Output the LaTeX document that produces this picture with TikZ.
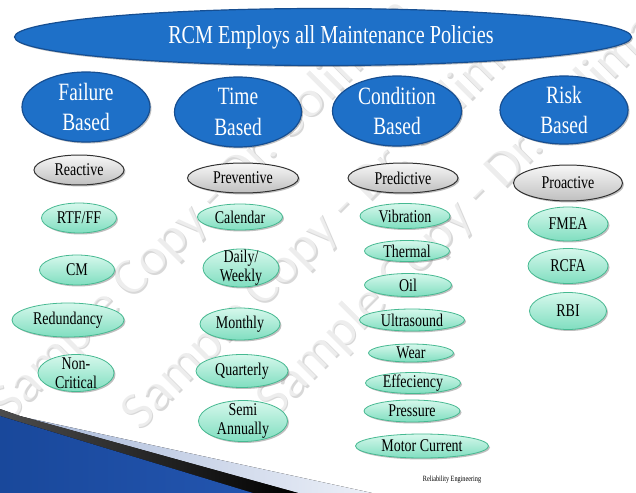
\documentclass[tikz,border=0pt]{standalone}
\usepackage{fontspec}
\setmainfont{Liberation Serif}[FakeStretch=0.78]
\newfontfamily\wmfont{Carlito}
\usetikzlibrary{shapes.geometric,shadows}
\definecolor{blueF}{RGB}{30,112,200}
\definecolor{blueD}{RGB}{22,78,145}
\definecolor{greenT}{RGB}{214,248,236}
\definecolor{greenB}{RGB}{128,222,192}
\definecolor{greenD}{RGB}{70,185,145}
\definecolor{silD}{RGB}{50,50,50}
\definecolor{swA}{RGB}{25,72,155}
\definecolor{swB}{RGB}{85,140,222}
\definecolor{swC}{RGB}{35,85,175}
\definecolor{lbA}{RGB}{165,182,215}
\definecolor{lbB}{RGB}{236,240,248}
\newcommand\mkell[6]{%
  \node[#1, minimum width=#4bp, minimum height=#5bp] (#2) at (#3) {};
  \node[#1txt] (#2t) at (#2.center) {#6};}
\begin{document}
\begin{tikzpicture}[x=1bp,y=-1bp,
  shad/.style={drop shadow={shadow xshift=1.5pt,shadow yshift=-1.5pt,opacity=0.25,fill=black}},
  bel/.style={ellipse, draw=blueD, line width=1.2pt, fill=blueF, inner sep=0pt, shad},
  beltxt/.style={text=white, font=\fontsize{25}{31}\selectfont, align=center, inner sep=0pt},
  ttltxt/.style={text=white, font=\fontsize{26}{30}\selectfont, inner sep=0pt},
  sel/.style={ellipse, draw=silD, line width=1pt, top color=gray!6, bottom color=gray!50, inner sep=0pt, shad},
  seltxt/.style={text=black, font=\fontsize{18}{20}\selectfont, inner sep=0pt},
  gel/.style={ellipse, draw=greenD, line width=0.8pt, top color=greenT, bottom color=greenB, inner sep=0pt, shad},
  geltxt/.style={text=black, font=\fontsize{18}{19}\selectfont, align=center, inner sep=0pt},
  wmg/.style={text=black!55, opacity=0.28, rotate=45, font=\wmfont\fontsize{54}{54}\selectfont, inner sep=0pt},
  wmw/.style={text=white, opacity=0.55, rotate=45, font=\wmfont\fontsize{54}{54}\selectfont, inner sep=0pt}]
\useasboundingbox (0,0) rectangle (636,493);
\fill[white] (0,0) rectangle (636,493);
% watermark (behind)
\node[wmg] (wm1s) at (203.5,210.5) {Sample Copy - Dr. Soliman};
\node[wmw] (wm1) at (202,209) {Sample Copy - Dr. Soliman};
\node[wmg] (wm2s) at (334.5,219.5) {Sample Copy - Dr. Soliman};
\node[wmw] (wm2) at (333,218) {Sample Copy - Dr. Soliman};
\node[wmg] (wm3s) at (469.5,206.5) {Sample Copy - Dr. Soliman};
\node[wmw] (wm3) at (468,205) {Sample Copy - Dr. Soliman};
% bottom swoosh
\fill[left color=lbA, right color=lbB] (0,412) -- (372,493) -- (0,493) -- cycle;
\fill[left color=black!70, right color=black] (0,409) -- (20,416) -- (298,493) -- (0,493) -- cycle;
\fill[left color=swA, middle color=swB, right color=swC] (0,416) -- (253,493) -- (0,493) -- cycle;
% title
\node[bel, minimum width=617bp, minimum height=57bp] (title) at (323,37) {};
\node[ttltxt] (titlet) at (331,37) {RCM Employs all Maintenance Policies};
% categories
\mkell{bel}{failure}{86,107}{128}{70}{Failure\\Based}
\mkell{bel}{time}{238,112}{127}{70}{Time\\Based}
\mkell{bel}{cond}{397,111}{129}{70}{Condition\\Based}
\mkell{bel}{risk}{564,110}{128}{68}{Risk\\Based}
% types
\mkell{sel}{reactive}{79,170}{90}{30}{Reactive}
\mkell{sel}{preventive}{243,178}{111}{30}{Preventive}
\mkell{sel}{predictive}{403,178}{110}{30}{Predictive}
\mkell{sel}{proactive}{568,183}{109}{36}{Proactive}
% column 1
\mkell{gel}{rtf}{79,218}{75}{30}{RTF/FF}
\mkell{gel}{cm}{77,270}{75}{30}{CM}
\mkell{gel}{red}{68,320}{112}{34}{Redundancy}
\mkell{gel}{noncrit}{76,373}{76}{37}{Non-\\Critical}
% column 2
\mkell{gel}{cal}{240,217}{85}{26}{Calendar}
\mkell{gel}{daily}{241,268}{76}{38}{Daily/\\Weekly}
\mkell{gel}{monthly}{240,324}{80}{32}{Monthly}
\mkell{gel}{quart}{242,371}{92}{33}{Quarterly}
\mkell{gel}{semi}{243,421}{89}{41}{Semi\\Annually}
% column 3
\mkell{gel}{vib}{405,216}{90}{25}{Vibration}
\mkell{gel}{therm}{407,251}{85}{21}{Thermal}
\mkell{gel}{oil}{408,285}{87}{23}{Oil}
\mkell{gel}{ultra}{412,320}{105}{22}{Ultrasound}
\mkell{gel}{wear}{411,353}{85}{18}{Wear}
\mkell{gel}{eff}{413,383}{95}{21}{Effeciency}
\mkell{gel}{press}{412,411}{96}{22}{Pressure}
\mkell{gel}{motor}{422,446}{133}{24}{Motor Current}
% column 4
\mkell{gel}{fmea}{568,224}{80}{34}{FMEA}
\mkell{gel}{rcfa}{568,266}{80}{35}{RCFA}
\mkell{gel}{rbi}{568,311}{77}{37}{RBI}
% footer
\node[font=\fontsize{8}{9}\selectfont, inner sep=0pt] (footer) at (452,480) {Reliability Engineering};
\end{tikzpicture}
\end{document}
